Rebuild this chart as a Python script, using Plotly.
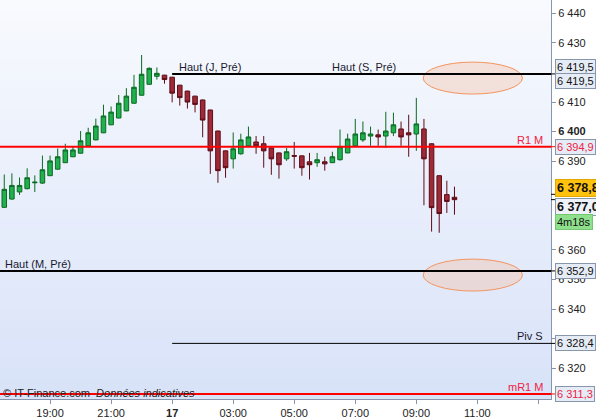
import plotly.graph_objects as go

# ---------------- data ----------------
opens  = [6374.4, 6377.2, 6379.6, 6380.7, 6382.7, 6382.6, 6385.1, 6387.3, 6389.5, 6391.5,
          6392.7, 6395.2, 6397.2, 6399.6, 6402.3, 6404.6, 6407.0, 6409.6, 6412.3, 6416.0,
          6418.7, 6419.1, 6418.4, 6415.7, 6413.7, 6412.0, 6410.7, 6407.3, 6400.2, 6393.5,
          6390.8, 6392.5, 6395.2, 6396.5, 6395.9, 6394.5, 6392.8, 6390.8, 6391.9, 6391.8,
          6389.8, 6389.5, 6389.8, 6389.5, 6390.5, 6392.8, 6395.2, 6397.2, 6398.5, 6398.9,
          6398.5, 6399.6, 6400.9, 6399.6, 6399.2, 6400.9, 6395.9, 6385.1, 6378.7, 6377.8]
highs  = [6385.5, 6385.9, 6384.5, 6387.6, 6385.2, 6391.9, 6391.9, 6394.3, 6395.9, 6394.9,
          6400.2, 6401.3, 6404.4, 6409.1, 6408.5, 6412.4, 6414.7, 6419.2, 6425.9, 6421.7,
          6421.7, 6419.2, 6418.5, 6415.8, 6413.8, 6412.1, 6410.8, 6407.4, 6400.3, 6393.6,
          6399.7, 6399.3, 6401.7, 6398.5, 6398.5, 6394.6, 6392.9, 6394.5, 6396.5, 6391.9,
          6392.8, 6392.8, 6391.5, 6393.2, 6400.7, 6399.3, 6404.3, 6403.4, 6401.7, 6400.7,
          6406.7, 6406.4, 6403.4, 6405.7, 6411.4, 6404.3, 6396.0, 6385.2, 6383.4, 6381.4]
lows   = [6374.2, 6377.0, 6378.6, 6380.5, 6379.6, 6382.3, 6385.0, 6387.2, 6389.4, 6391.4,
          6392.6, 6395.1, 6397.1, 6399.5, 6402.2, 6404.5, 6406.9, 6409.5, 6412.2, 6415.9,
          6417.6, 6416.2, 6409.9, 6408.8, 6407.8, 6406.5, 6398.1, 6385.7, 6382.7, 6384.4,
          6387.5, 6392.2, 6395.1, 6392.5, 6387.8, 6385.4, 6384.1, 6390.1, 6387.5, 6385.1,
          6383.8, 6388.1, 6386.8, 6389.4, 6390.2, 6392.7, 6395.1, 6396.5, 6395.2, 6395.2,
          6394.5, 6398.5, 6395.2, 6391.5, 6393.5, 6375.1, 6366.2, 6365.8, 6372.5, 6371.9]
closes = [6380.5, 6381.8, 6381.8, 6384.4, 6382.9, 6387.1, 6390.1, 6391.5, 6393.8, 6393.8,
          6396.9, 6399.6, 6401.9, 6405.3, 6406.6, 6409.6, 6412.0, 6415.0, 6419.4, 6421.4,
          6419.7, 6417.6, 6413.0, 6411.5, 6410.0, 6409.2, 6403.9, 6393.5, 6386.8, 6387.8,
          6394.2, 6397.2, 6398.2, 6395.2, 6393.5, 6390.8, 6388.8, 6393.2, 6391.7, 6387.8,
          6388.8, 6390.5, 6389.1, 6391.5, 6394.9, 6397.5, 6399.2, 6399.6, 6399.2, 6398.2,
          6400.2, 6402.3, 6398.2, 6398.9, 6402.6, 6390.8, 6374.3, 6372.3, 6376.4, 6377.0]
candle_idx = list(range(len(opens)))

x_tick_pos = [6, 14, 22, 30, 38, 46, 54, 62, 70]
x_tick_labels = ["19:00", "21:00", "<b>17</b>", "03:00", "05:00", "07:00", "09:00", "11:00", ""]

y_tick_vals = [6320, 6330, 6340, 6350, 6360, 6390, 6400, 6410, 6430, 6440]
y_tick_labels = ["6 320", "6 330", "6 340", "6 350", "6 360", "6 390", "<b>6 400</b>",
                 "6 410", "6 430", "6 440"]

day_start = 22          # candle index where the "17" session begins
haut_j = 6419.5
haut_s = 6419.5
r1_m = 6394.9
haut_m = 6352.9
piv_s = 6328.4
mr1_m = 6311.3
ask_price = 6378.8
last_price = 6377.0
timer_text = "4m18s"

X_RANGE = [-0.56, 71.65]
Y_RANGE = [6309.6, 6444.5]


def fmt(v):
    return f"{v:,.1f}".replace(",", " ").replace(".", ",")


FONT = "Liberation Sans, Arial, sans-serif"
AXIS_COL = "#8796AA"
RED = "#FF0000"
RED_TXT = "#EE2244"

fig = go.Figure()
fig.add_trace(go.Candlestick(
    x=candle_idx, open=opens, high=highs, low=lows, close=closes,
    increasing=dict(fillcolor="#21B04E", line=dict(color="#0B6A22", width=1)),
    decreasing=dict(fillcolor="#9E2A38", line=dict(color="#5E0B16", width=1)),
    whiskerwidth=0, hoverinfo="skip", showlegend=False,
))

shapes = []
# background gradient
n_bands = 40
top_c = (248, 250, 254)
bot_c = (216, 226, 248)
for i in range(n_bands):
    t = (i + 0.5) / n_bands
    c = tuple(round(top_c[k] + (bot_c[k] - top_c[k]) * t) for k in range(3))
    shapes.append(dict(type="rect", xref="paper", yref="paper", x0=0, x1=1,
                       y0=1 - (i + 1) / n_bands, y1=1 - i / n_bands + 0.001,
                       fillcolor="rgb(%d,%d,%d)" % c, line=dict(width=0), layer="below"))

# ellipses around the Haut levels
for lvl in (haut_s, haut_m):
    shapes.append(dict(type="circle", xref="x", yref="y", x0=54.9, x1=67.9,
                       y0=lvl - 6.8, y1=lvl + 4.0,
                       fillcolor="rgba(245,188,160,0.38)",
                       line=dict(color="#F5945E", width=1)))

# level lines
shapes.append(dict(type="line", xref="x", yref="y", x0=day_start, x1=X_RANGE[1],
                   y0=haut_j, y1=haut_j, line=dict(color="black", width=2)))
shapes.append(dict(type="line", xref="paper", yref="y", x0=0, x1=1,
                   y0=r1_m, y1=r1_m, line=dict(color=RED, width=2)))
shapes.append(dict(type="line", xref="paper", yref="y", x0=0, x1=1,
                   y0=haut_m, y1=haut_m, line=dict(color="black", width=2)))
shapes.append(dict(type="line", xref="x", yref="y", x0=day_start, x1=X_RANGE[1],
                   y0=piv_s, y1=piv_s, line=dict(color="black", width=1)))
shapes.append(dict(type="line", xref="paper", yref="y", x0=0, x1=1,
                   y0=mr1_m, y1=mr1_m, line=dict(color=RED, width=2)))

# small connectors on the price axis
for lvl, col in ((haut_j, "black"), (r1_m, RED), (haut_m, "black"), (piv_s, "black"),
                 (mr1_m, RED), (ask_price, "black"), (last_price, "black")):
    shapes.append(dict(type="line", xref="paper", yref="y", x0=1.0, x1=1.0075,
                       y0=lvl, y1=lvl, line=dict(color=col, width=1)))

annotations = []


def level_label(text, x, xref, y, anchor, color):
    annotations.append(dict(text=text, x=x, xref=xref, y=y, yref="y", xanchor=anchor,
                            yanchor="middle", yshift=7, showarrow=False,
                            font=dict(family=FONT, size=11, color=color)))


level_label("Haut (J, Pré)", day_start + 0.62, "x", haut_j, "left", "#1A1A30")
level_label("Haut (S, Pré)", 42.7, "x", haut_s, "left", "#1A1A30")
level_label("R1 M", 0.99, "paper", r1_m, "right", RED_TXT)
level_label("Haut (M, Pré)", 0.006, "paper", haut_m, "left", "#1A1A30")
level_label("Piv S", 0.99, "paper", piv_s, "right", "#1A1A30")
level_label("mR1 M", 0.99, "paper", mr1_m, "right", RED_TXT)

annotations.append(dict(text="© IT-Finance.com  <i>Données indicatives</i>", x=0.002, xref="paper",
                        y=0.016, yref="paper", xanchor="left", yanchor="middle", showarrow=False,
                        font=dict(family=FONT, size=11, color="#222222")))

BOX_X = 1.0075


def price_box(text, y, shift, color="#111111", bg="#E6ECF6", border=AXIS_COL, bold=False, size=11):
    annotations.append(dict(text=("<b>%s</b>" % text) if bold else text,
                            x=BOX_X, xref="paper", y=y, yref="y", xanchor="left",
                            yanchor="middle", yshift=shift, showarrow=False, align="left",
                            bgcolor=bg, bordercolor=border, borderwidth=1, borderpad=1,
                            font=dict(family=FONT, size=size, color=color)))


price_box(fmt(haut_j), haut_j, 7)
price_box(fmt(haut_s), haut_s, -7)
price_box(fmt(r1_m), r1_m, 0, color=RED_TXT)
price_box(fmt(ask_price), ask_price, 6, bg="#FFC20E", border="#E0A800", bold=True, size=12.5)
price_box(fmt(last_price), last_price, -7, bg="#EEF2FA", bold=True, size=12.5)
price_box(timer_text, last_price, -22, bg="#8FE08C", border="#74C672", size=11)
price_box(fmt(haut_m), haut_m, 0)
price_box(fmt(piv_s), piv_s, 0)
price_box(fmt(mr1_m), mr1_m, 0, color=RED_TXT)

fig.update_layout(
    width=596, height=419,
    margin=dict(l=0, r=45, t=0, b=18),
    paper_bgcolor="white", plot_bgcolor="#EEF2FB",
    showlegend=False, boxgap=0.15,
    shapes=shapes, annotations=annotations,
    font=dict(family=FONT, size=11, color="#222222"),
    xaxis=dict(range=X_RANGE, rangeslider=dict(visible=False), tickmode="array",
               tickvals=x_tick_pos, ticktext=x_tick_labels, ticks="outside", ticklen=4,
               tickcolor=AXIS_COL, showline=True, linecolor=AXIS_COL, linewidth=1,
               showgrid=False, zeroline=False, tickfont=dict(family=FONT, size=11, color="#222222")),
    yaxis=dict(range=Y_RANGE, side="right", tickmode="array", tickvals=y_tick_vals,
               ticktext=y_tick_labels, ticks="outside", ticklen=4, tickcolor=AXIS_COL,
               showline=True, linecolor=AXIS_COL, linewidth=1, showgrid=False, zeroline=False,
               tickfont=dict(family=FONT, size=11, color="#222222")),
)

fig.write_html("out.html", config={"displayModeBar": False},
               post_script="document.body.style.margin='0px';")
